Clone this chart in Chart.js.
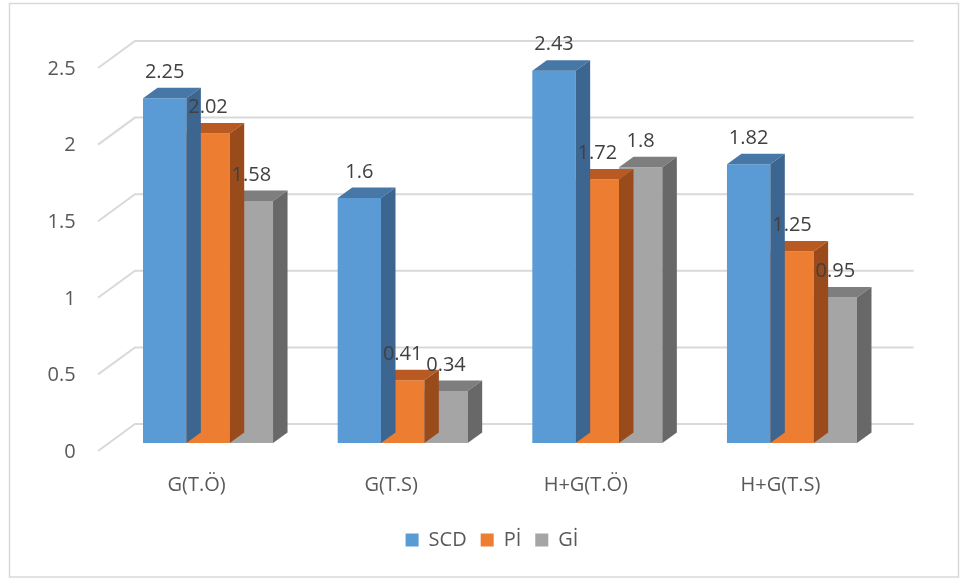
<!DOCTYPE html>
<html>
<head>
<meta charset="utf-8">
<script src="https://cdn.jsdelivr.net/npm/chart.js@4.4.1/dist/chart.umd.min.js"></script>
<style>
  html, body { margin: 0; padding: 0; background: #ffffff; }
  #wrap { width: 960px; height: 579px; position: relative; }
</style>
</head>
<body>
<div id="wrap"><canvas id="chart" width="960" height="579"></canvas></div>
<script>
// ---- data ----
const categories = ['G(T.Ö)', 'G(T.S)', 'H+G(T.Ö)', 'H+G(T.S)'];
const seriesNames = ['SCD', 'Pİ', 'Gİ'];
const scdValues = [2.25, 1.6, 2.43, 1.82];
const piValues  = [2.02, 0.41, 1.72, 1.25];
const giValues  = [1.58, 0.34, 1.8, 0.95];
const yTicks = [0, 0.5, 1, 1.5, 2, 2.5];

// ---- styling ----
const faceColors = ['#5B9BD5', '#ED7D31', '#A5A5A5'];
const topColors  = ['#4677A6', '#B85A22', '#7E7E7E'];
const sideColors = ['#3C6590', '#9A4B1B', '#686868'];
const GRID = '#D9D9D9';
const DX = 14.5, DY = -10.5;          // depth of each column
const WALL_DX = 24.3, WALL_DY = -19;  // back wall offset from the column plane
const FRONT_DX = -12.7, FRONT_DY = 8; // front edge of the floor / wall lines
const LEGEND_SHIFT = 42;              // legend sits right of the plot centre

Chart.defaults.font.family = "'Open Sans', sans-serif";
Chart.defaults.font.size = 20;
Chart.defaults.color = '#595959';

const prism = {
  id: 'prism',
  afterLayout(chart) {
    if (chart.legend) {
      chart.legend.left += LEGEND_SHIFT;
      chart.legend.right += LEGEND_SHIFT;
    }
  },
  beforeDatasetsDraw(chart) {
    const { ctx, chartArea: a, scales: { y } } = chart;
    ctx.save();
    ctx.strokeStyle = GRID;
    ctx.lineWidth = 2;
    yTicks.forEach(v => {
      const py = y.getPixelForValue(v);
      ctx.beginPath();
      ctx.moveTo(a.left + FRONT_DX, py + FRONT_DY);
      ctx.lineTo(a.left + WALL_DX, py + WALL_DY);
      ctx.lineTo(a.right + WALL_DX, py + WALL_DY);
      ctx.stroke();
    });
    ctx.restore();
  },
  afterDatasetDraw(chart, args) {
    const { ctx } = chart;
    const i = args.index;
    ctx.save();
    args.meta.data.forEach(el => {
      const { x, y, base, width } = el.getProps(['x', 'y', 'base', 'width'], true);
      const l = x - width / 2, r = x + width / 2;
      ctx.fillStyle = topColors[i];
      ctx.beginPath();
      ctx.moveTo(l, y); ctx.lineTo(r, y);
      ctx.lineTo(r + DX, y + DY); ctx.lineTo(l + DX, y + DY);
      ctx.closePath(); ctx.fill();
      ctx.fillStyle = sideColors[i];
      ctx.beginPath();
      ctx.moveTo(r, y); ctx.lineTo(r + DX, y + DY);
      ctx.lineTo(r + DX, base + DY); ctx.lineTo(r, base);
      ctx.closePath(); ctx.fill();
    });
    ctx.restore();
  },
  afterDatasetsDraw(chart) {
    const { ctx } = chart;
    ctx.save();
    ctx.fillStyle = '#404040';
    ctx.font = "20px 'Open Sans', sans-serif";
    ctx.textAlign = 'center';
    ctx.textBaseline = 'middle';
    chart.data.datasets.forEach((ds, i) => {
      chart.getDatasetMeta(i).data.forEach((el, j) => {
        const { x, y } = el.getProps(['x', 'y'], true);
        ctx.fillText(String(ds.data[j]), x, y - 26);
      });
    });
    ctx.restore();
  },
  afterDraw(chart) {
    const { ctx } = chart;
    ctx.save();
    ctx.strokeStyle = '#D9D9D9';
    ctx.lineWidth = 1.5;
    ctx.strokeRect(9.5, 3.5, 949, 573.5);
    ctx.restore();
  }
};

new Chart(document.getElementById('chart'), {
  type: 'bar',
  data: {
    labels: categories,
    datasets: [
      { label: seriesNames[0], data: scdValues, backgroundColor: faceColors[0] },
      { label: seriesNames[1], data: piValues,  backgroundColor: faceColors[1] },
      { label: seriesNames[2], data: giValues,  backgroundColor: faceColors[2] }
    ]
  },
  options: {
    responsive: false,
    animation: false,
    events: [],
    layout: { padding: { left: 10.7, right: 70.7, top: 60, bottom: 19 } },
    datasets: { bar: { categoryPercentage: 0.668, barPercentage: 1, borderWidth: 0 } },
    scales: {
      x: {
        grid: { display: false, drawTicks: false },
        border: { display: false },
        ticks: { padding: 30, labelOffset: -11.5, color: '#595959', maxRotation: 0 },
        afterFit(s) { s.height = 73; }
      },
      y: {
        min: 0, max: 2.5,
        grid: { display: false, drawTicks: false },
        border: { display: false },
        ticks: { padding: 35, labelOffset: 9, color: '#595959', callback: v => String(v) },
        afterBuildTicks(s) { s.ticks = yTicks.map(v => ({ value: v })); },
        afterFit(s) { s.width = 100; }
      }
    },
    plugins: {
      legend: {
        position: 'bottom',
        labels: { boxWidth: 13, boxHeight: 13, padding: 14, color: '#595959' }
      },
      tooltip: { enabled: false }
    }
  },
  plugins: [prism]
});
</script>
</body>
</html>
